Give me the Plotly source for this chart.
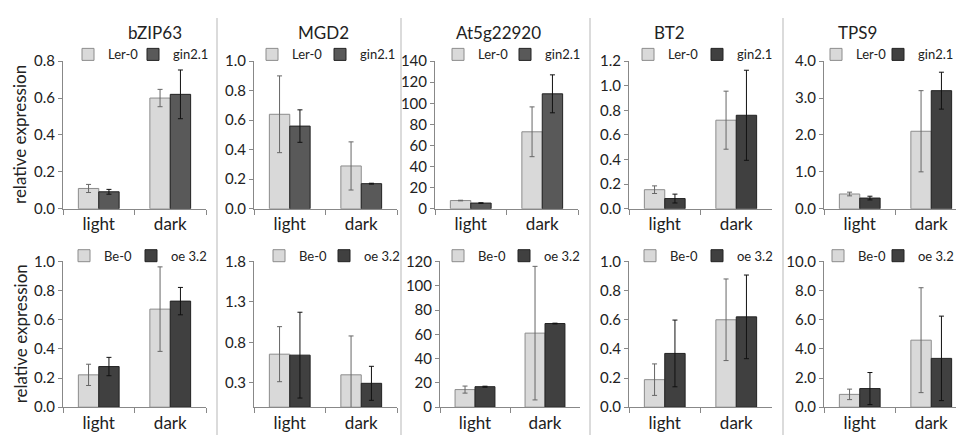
import plotly.graph_objects as go

# --- data -------------------------------------------------------------------

groups = ["light", "dark"]
genes = ["bZIP63", "MGD2", "At5g22920", "BT2", "TPS9"]

# top row: Ler-0 vs gin2.1  (one [light, dark] pair per gene)
ler0_mean = [[0.11, 0.60], [0.64, 0.29], [7.8, 73], [0.155, 0.72], [0.40, 2.1]]
ler0_err = [[0.022, 0.047], [0.26, 0.163], [0.3, 23.6], [0.031, 0.236], [0.05, 1.1]]
gin21_mean = [[0.092, 0.62], [0.56, 0.17], [5.4, 109], [0.083, 0.76], [0.29, 3.2]]
gin21_err = [[0.013, 0.132], [0.11, 0.003], [0.3, 18], [0.036, 0.366], [0.05, 0.5]]

# bottom row: Be-0 vs oe 3.2
be0_mean = [[0.222, 0.673], [0.655, 0.40], [14.5, 61], [0.189, 0.60], [0.88, 4.6]]
be0_err = [[0.073, 0.29], [0.34, 0.48], [2.9, 55], [0.108, 0.28], [0.36, 3.6]]
oe32_mean = [[0.279, 0.728], [0.643, 0.295], [16.9, 68.9], [0.369, 0.62], [1.28, 3.35]]
oe32_err = [[0.063, 0.094], [0.53, 0.21], [0.4, 0.3], [0.229, 0.287], [1.1, 2.9]]

# y axis scales / tick labels
top_ymax = [0.8, 1.0, 140, 1.2, 4.0]
top_dtick = [0.2, 0.2, 20, 0.2, 1.0]
bot_ymax = [1.0, 1.8, 120, 1.0, 10.0]
bot_dtick = [0.2, 0.5, 20, 0.2, 2.0]
bot_tick0 = [0, 0.3, 0, 0, 0]

# --- style ------------------------------------------------------------------

W, H = 964, 435
FONT = "Lato, 'Open Sans', sans-serif"
LIGHT = "#d9d9d9"
MID = "#595959"
DARK = "#404040"

# pixel geometry of each panel (x0, x1) per row, and (top, bottom) per row
top_x = [(55, 198), (246, 389), (427, 570), (621, 764), (816, 959)]
bot_x = [(55, 198), (246, 389), (432, 572), (621, 764), (816, 959)]
top_y = (45, 199)
bot_y = (254, 406)
separators = [209, 393, 582, 775]
title_x = [147, 315, 490, 661, 849]
# centres of the legend squares (first, second) per panel
top_leg = [(80, 145), (264, 332), (450, 517), (640, 709), (828, 890)]
bot_leg = [(76, 143), (271, 336), (450, 516), (642, 709), (830, 890)]


def px(x):
    return x / W


def py(y):
    return 1 - y / H


fig = go.Figure()

rows = [
    (ler0_mean, ler0_err, gin21_mean, gin21_err, "Ler-0", "gin2.1",
     top_x, top_y, top_ymax, top_dtick, [0] * 5, [MID, MID, MID, DARK, DARK],
     top_leg, 38),
    (be0_mean, be0_err, oe32_mean, oe32_err, "Be-0", "oe 3.2",
     bot_x, bot_y, bot_ymax, bot_dtick, bot_tick0, [DARK] * 5,
     bot_leg, 248),
]

layout = {}
n = 0
for (m_a, e_a, m_b, e_b, name_a, name_b, xs, ys, ymax, dtick, tick0,
     dark_cols, legs, leg_y) in rows:
    for i in range(5):
        n += 1
        sfx = "" if n == 1 else str(n)
        leg_a = "legend" + ("" if n == 1 else str(2 * n - 1))
        leg_b = "legend" + str(2 * n)
        fig.add_trace(go.Bar(
            x=groups, y=m_a[i], name=name_a,
            error_y=dict(type="data", array=e_a[i], color="#666",
                         thickness=1, width=2.5),
            marker=dict(color=LIGHT, line=dict(color="#8c8c8c", width=1)),
            xaxis="x" + sfx, yaxis="y" + sfx, legend=leg_a,
        ))
        fig.add_trace(go.Bar(
            x=groups, y=m_b[i], name=name_b,
            error_y=dict(type="data", array=e_b[i], color="#111",
                         thickness=1, width=2.5),
            marker=dict(color=dark_cols[i], line=dict(color="#222", width=1)),
            xaxis="x" + sfx, yaxis="y" + sfx, legend=leg_b,
        ))
        layout["xaxis" + sfx] = dict(
            domain=[px(xs[i][0]), px(xs[i][1])], anchor="y" + sfx,
            type="category", tickson="boundaries", ticks="outside",
            ticklen=5, tickcolor="#888", showline=True, linecolor="#888",
            showgrid=False, tickfont=dict(size=17, color="#222"),
        )
        layout["yaxis" + sfx] = dict(
            domain=[py(ys[1]), py(ys[0])], anchor="x" + sfx,
            range=[0, ymax[i]], tick0=tick0[i], dtick=dtick[i],
            tickformat="d" if ymax[i] > 50 else ".1f",
            ticks="outside", ticklen=4, tickcolor="#888",
            showline=True, linecolor="#888", showgrid=False, zeroline=False,
            tickfont=dict(size=15, color="#222"),
        )
        for leg, cx in zip([leg_a, leg_b], legs[i]):
            layout[leg] = dict(
                x=px(cx - 20), y=py(leg_y), xanchor="left", yanchor="middle",
                orientation="h", bgcolor="rgba(0,0,0,0)",
                font=dict(size=13, color="#222"), itemclick=False,
            )

fig.update_layout(**layout)

for gene, tx in zip(genes, title_x):
    fig.add_annotation(x=px(tx), y=py(15), xref="paper", yref="paper",
                       xanchor="center", yanchor="middle",
                       text=gene, showarrow=False, font=dict(size=17, color="#222"))

for yc in [(top_y[0] + top_y[1]) / 2, (bot_y[0] + bot_y[1]) / 2]:
    fig.add_annotation(x=px(12), y=py(yc), xref="paper", yref="paper",
                       xanchor="center", yanchor="middle",
                       text="relative expression", textangle=-90, showarrow=False,
                       font=dict(size=17, color="#222"))

for sx in separators:
    fig.add_shape(type="line", xref="paper", yref="paper",
                  x0=px(sx), x1=px(sx), y0=0, y1=1,
                  line=dict(color="#cfcfcf", width=1.5))

fig.update_layout(
    width=W, height=H,
    margin=dict(l=0, r=0, t=0, b=0),
    paper_bgcolor="white", plot_bgcolor="white",
    font=dict(family=FONT, color="#222"),
    barmode="group", bargap=0.43, bargroupgap=0,
    showlegend=True,
)

fig.write_html("out.html")
